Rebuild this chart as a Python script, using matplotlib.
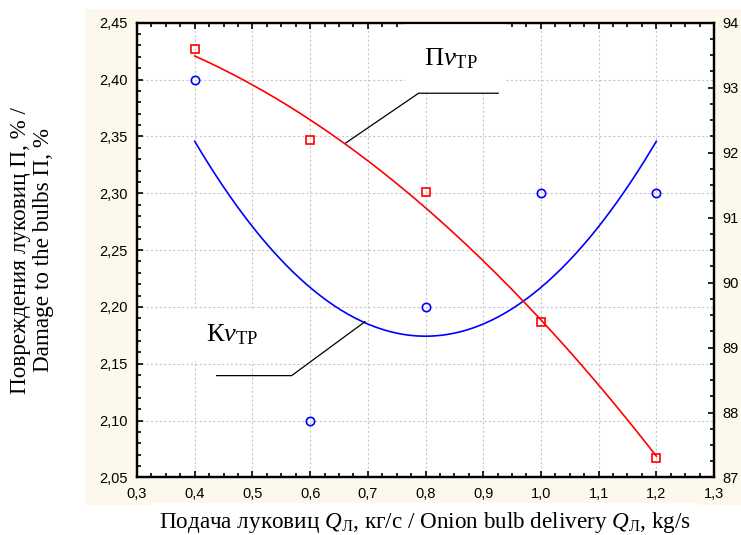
import numpy as np
import matplotlib
matplotlib.use("Agg")
import matplotlib.pyplot as plt
from matplotlib.ticker import MultipleLocator, FuncFormatter
from matplotlib.patches import Rectangle

# data
feed = [0.4, 0.6, 0.8, 1.0, 1.2]                 # Q_Л, kg/s
damage = [2.40, 2.10, 2.20, 2.30, 2.30]          # К v_ТР, left axis
quality = [93.6, 92.2, 91.4, 89.4, 87.3]         # П v_ТР, right axis

plt.rcParams['mathtext.fontset'] = 'custom'
plt.rcParams['mathtext.rm'] = 'Liberation Serif'
plt.rcParams['mathtext.it'] = 'Liberation Serif:italic'

serif = 'Liberation Serif'
sans = 'Liberation Sans'

fig = plt.figure(figsize=(7.41, 5.35), dpi=100)
fig.patch.set_facecolor('white')
# cream panel behind the chart
fig.patches.append(Rectangle((0.1147, 0.057), 0.8853, 0.926, transform=fig.transFigure,
                             facecolor='#fdf8ec', edgecolor='none', zorder=-5))

ax = fig.add_axes([0.1849, 0.1075, 0.7787, 0.850])
ax.set_facecolor('white')
ax2 = ax.twinx()

ax.set_xlim(0.3, 1.3)
ax.set_ylim(2.05, 2.45)
ax2.set_ylim(87, 94)

ax.xaxis.set_major_locator(MultipleLocator(0.1))
ax.xaxis.set_minor_locator(MultipleLocator(0.025))
ax.yaxis.set_major_locator(MultipleLocator(0.05))
ax.yaxis.set_minor_locator(MultipleLocator(0.01))
ax2.yaxis.set_major_locator(MultipleLocator(1))
ax2.yaxis.set_minor_locator(MultipleLocator(0.25))

ax.xaxis.set_major_formatter(FuncFormatter(lambda v, p: f'{v:.1f}'.replace('.', ',')))
ax.yaxis.set_major_formatter(FuncFormatter(lambda v, p: f'{v:.2f}'.replace('.', ',')))
ax2.yaxis.set_major_formatter(FuncFormatter(lambda v, p: f'{v:.0f}'))

ax.tick_params(which='both', direction='in', top=True, right=False, width=1.2,
               labelsize=10.5, pad=7)
ax.tick_params(which='major', length=4)
ax.tick_params(which='minor', length=3)
ax2.tick_params(which='both', direction='in', width=1.2, labelsize=10.5, pad=6)
ax2.tick_params(which='major', length=4)
ax2.tick_params(which='minor', length=3)
for lab in ax.get_xticklabels() + ax.get_yticklabels() + ax2.get_yticklabels():
    lab.set_fontfamily(sans)

for a in (ax, ax2):
    for s in a.spines.values():
        s.set_linewidth(1.6)

ax.grid(True, which='major', color='#c8c8c8', linestyle=(0, (2, 2)), linewidth=0.8)
ax.set_axisbelow(True)

# fitted curves (quadratic)
xx = np.linspace(min(feed), max(feed), 200)
kb = np.polyfit(feed, damage, 2)
kr = np.polyfit(feed, quality, 2)
ax.plot(xx, np.polyval(kb, xx), color='#0000ff', lw=1.2, zorder=3)
ax2.plot(xx, np.polyval(kr, xx), color='#ff0000', lw=1.2, zorder=3)

ax.plot(feed, damage, 'o', ms=6, mfc='none', mec='#0000ff', mew=1.2, zorder=4)
ax2.plot(feed, quality, 's', ms=6, mfc='none', mec='#ff0000', mew=1.2, zorder=4)

# curve labels with leader lines
ax.add_patch(Rectangle((0.765, 2.388), 0.175, 0.07, facecolor='white',
                       edgecolor='none', zorder=4.5))
ax.text(0.844, 2.419, r'$\mathrm{П}\mathit{v}_{\mathrm{ТР}}$', fontsize=19,
        ha='center', va='center', zorder=5)
ax.plot([0.661, 0.788, 0.926], [2.344, 2.388, 2.388], color='black', lw=0.9, zorder=5)

ax.text(0.465, 2.1756, r'$\mathrm{К}\mathit{v}_{\mathrm{ТР}}$', fontsize=19,
        ha='center', va='center', zorder=5,
        bbox=dict(boxstyle='square,pad=0.5', fc='white', ec='none'))
ax.plot([0.438, 0.568, 0.695], [2.1396, 2.1396, 2.187], color='black', lw=0.9, zorder=5)

ax.set_xlabel(r'Подача луковиц $\mathit{Q}_{\mathrm{Л}}$, кг/с / Onion bulb delivery '
              r'$\mathit{Q}_{\mathrm{Л}}$, kg/s',
              fontfamily=serif, fontsize=16.7, labelpad=6,
              bbox=dict(boxstyle='square,pad=0.3', fc='white', ec='none'))
ax.set_ylabel('Повреждения луковиц П, % /\nDamage to the bulbs П, %',
              fontfamily=serif, fontsize=16.7, labelpad=32, linespacing=1.15)

fig.savefig('out.png', dpi=100)
